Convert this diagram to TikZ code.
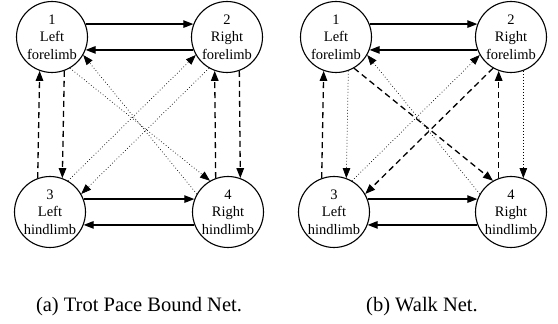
\documentclass[tikz,border=0pt]{standalone}
\usepackage{fontspec}
\setmainfont{Liberation Serif}
\usetikzlibrary{arrows.meta}
\tikzset{
  x=1pt, y=1pt,
  limb/.style={draw, circle, line width=1.1pt, minimum size=71pt, inner sep=0pt, align=center,
    font=\fontsize{14.5}{17.5}\selectfont},
  tip/.style={-{Triangle[length=10pt,width=7.5pt]}},
  solidarr/.style={tip, line width=1.2pt},
  dasharr/.style={tip, line width=1.3pt, dash pattern=on 6pt off 4pt},
  dotarr/.style={tip, line width=0.7pt, dash pattern=on 0.7pt off 2.3pt},
  captxt/.style={anchor=base, font=\fontsize{20.5}{24}\selectfont}
}
\begin{document}
\begin{tikzpicture}
\useasboundingbox (0,0) rectangle (558,324);
% panel (a)
\node[limb] (a1) at (52,287) {1\\Left\\forelimb};
\node[limb] (a2) at (227,287) {2\\Right\\forelimb};
\node[limb] (a3) at (50,112) {3\\Left\\hindlimb};
\node[limb] (a4) at (228,112) {4\\Right\\hindlimb};
\draw[solidarr] (a1.21) -- (a2.159);
\draw[solidarr] (a2.-159) -- (a1.-21);
\draw[solidarr] (a3.21) -- (a4.159);
\draw[solidarr] (a4.-159) -- (a3.-21);
\draw[dasharr] (a1.-70) -- (a3.70);
\draw[dasharr] (a3.110) -- (a1.-110);
\draw[dasharr] (a2.-70) -- (a4.70);
\draw[dasharr] (a4.110) -- (a2.-110);
\draw[dotarr] (a1.-60) -- (a4.120);
\draw[dotarr] (a4.150) -- (a1.-30);
\draw[dotarr] (a2.-120) -- (a3.30);
\draw[dotarr] (a3.60) -- (a2.-150);
% panel (b)
\node[limb] (b1) at (336,287) {1\\Left\\forelimb};
\node[limb] (b2) at (511,287) {2\\Right\\forelimb};
\node[limb] (b3) at (334,112) {3\\Left\\hindlimb};
\node[limb] (b4) at (511,112) {4\\Right\\hindlimb};
\draw[solidarr] (b1.21) -- (b2.159);
\draw[solidarr] (b2.-159) -- (b1.-21);
\draw[solidarr] (b3.21) -- (b4.159);
\draw[solidarr] (b4.-159) -- (b3.-21);
\draw[dotarr] (b1.-70) -- (b3.70);
\draw[dasharr] (b3.110) -- (b1.-110);
\draw[dotarr] (b2.-70) -- (b4.70);
\draw[dasharr] (b4.110) -- (b2.-110);
\draw[dasharr] (b1.-60) -- (b4.120);
\draw[dotarr] (b4.150) -- (b1.-30);
\draw[dasharr] (b2.-120) -- (b3.30);
\draw[dotarr] (b3.60) -- (b2.-150);
% captions
\node[captxt] (capa) at (139,12) {(a) Trot Pace Bound Net.};
\node[captxt] (capb) at (422,12) {(b) Walk Net.};
\end{tikzpicture}
\end{document}
